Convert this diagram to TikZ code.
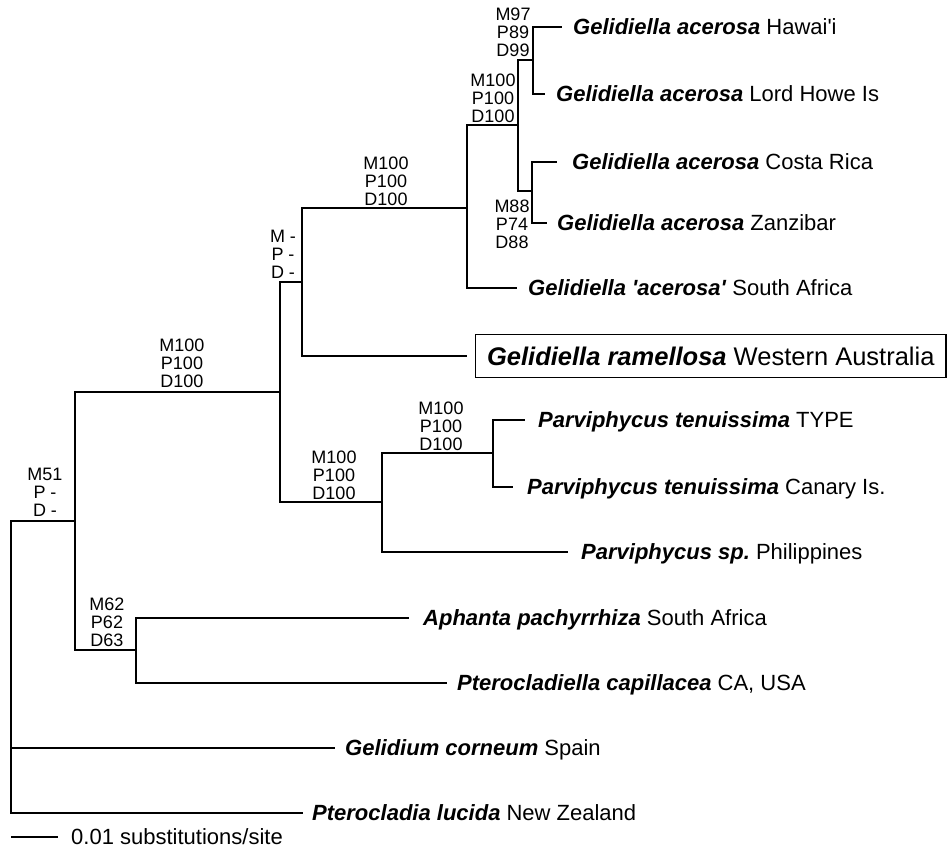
\documentclass[tikz,border=0pt]{standalone}
\usepackage{fontspec}
\setmainfont{Liberation Sans}
\newfontfamily\qfont{Liberation Sans}
\newcommand{\spn}[1]{\textbf{\textit{#1}}}
\newcommand{\apos}{{\qfont'}}
\frenchspacing
\begin{document}
\begin{tikzpicture}[x=1pt,y=-1pt,
  br/.style={line width=1.8pt, line join=miter},
  leaf/.style={anchor=west, inner sep=0pt, font=\fontsize{22}{26}\selectfont, text height=15.75pt, text depth=0pt},
  supp/.style={align=center, inner sep=0pt, font=\fontsize{18}{18}\selectfont},
  boxed/.style={draw, line width=1.2pt, anchor=west, inner xsep=11.5pt, inner ysep=12.4pt, font=\fontsize{25.5}{30}\selectfont, text height=18.3pt, text depth=0pt}
]
\useasboundingbox (0,0) rectangle (949,849);

% internal nodes
\coordinate (n1) at (533,60);
\coordinate (n2) at (532,191);
\coordinate (n3) at (518,125);
\coordinate (n4) at (467,208);
\coordinate (n5) at (302,282);
\coordinate (n6) at (493,453);
\coordinate (n7) at (382,502);
\coordinate (n8) at (280,392);
\coordinate (n9) at (136,650);
\coordinate (n10) at (75,521);
\coordinate (root) at (11,650);

% leaves
\node[leaf] (hawaii) at (573,27) {\spn{Gelidiella acerosa} Hawai\apos i};
\node[leaf] (lordhowe) at (556,94) {\spn{Gelidiella acerosa} Lord Howe Is};
\node[leaf] (costarica) at (572,162) {\spn{Gelidiella acerosa} Costa Rica};
\node[leaf] (zanzibar) at (557,223) {\spn{Gelidiella acerosa} Zanzibar};
\node[leaf] (safrica) at (528,288) {\spn{Gelidiella \apos acerosa\apos} South Africa};
\node[boxed] (ramellosa) at (475,356) {\spn{Gelidiella ramellosa} Western Australia};
\node[leaf] (ptype) at (538,420) {\spn{Parviphycus tenuissima} TYPE};
\node[leaf] (canary) at (527,487) {\spn{Parviphycus tenuissima} Canary Is.};
\node[leaf] (philip) at (581,552) {\spn{Parviphycus sp.} Philippines};
\node[leaf] (aphanta) at (423,618) {\spn{Aphanta pachyrrhiza} South Africa};
\node[leaf] (pcap) at (457,683) {\spn{Pterocladiella capillacea} CA, USA};
\node[leaf] (gcorn) at (345,748) {\spn{Gelidium corneum} Spain};
\node[leaf] (plucida) at (312,813) {\spn{Pterocladia lucida} New Zealand};

% branches
\draw[br, shorten >=11pt] (n1) |- (hawaii.west);
\draw[br, shorten >=11pt] (n1) |- (lordhowe.west);
\draw[br, shorten >=15pt] (n2) |- (costarica.west);
\draw[br, shorten >=10pt] (n2) |- (zanzibar.west);
\draw[br] (n3) |- (n1);
\draw[br] (n3) |- (n2);
\draw[br] (n4) |- (n3);
\draw[br, shorten >=11pt] (n4) |- (safrica.west);
\draw[br] (n5) |- (n4);
\draw[br, shorten >=8pt] (n5) |- (ramellosa.west);
\draw[br, shorten >=13pt] (n6) |- (ptype.west);
\draw[br, shorten >=14pt] (n6) |- (canary.west);
\draw[br] (n7) |- (n6);
\draw[br, shorten >=13pt] (n7) |- (philip.west);
\draw[br] (n8) |- (n5);
\draw[br] (n8) |- (n7);
\draw[br, shorten >=14pt] (n9) |- (aphanta.west);
\draw[br, shorten >=10pt] (n9) |- (pcap.west);
\draw[br] (n10) |- (n8);
\draw[br] (n10) |- (n9);
\draw[br] (root) |- (n10);
\draw[br, shorten >=10pt] (root) |- (gcorn.west);
\draw[br, shorten >=9pt] (root) |- (plucida.west);

% support values
\node[supp] (l1) at (513,32) {M97\\P89\\D99};
\node[supp] (l3) at (493,98) {M100\\P100\\D100};
\node[supp] (l2) at (512,224) {M88\\P74\\D88};
\node[supp] (l4) at (386,181) {M100\\P100\\D100};
\node[supp] (l5) at (283,254) {M -\\P -\\D -};
\node[supp] (l8) at (182,363) {M100\\P100\\D100};
\node[supp] (l7) at (334,475) {M100\\P100\\D100};
\node[supp] (l6) at (441,426) {M100\\P100\\D100};
\node[supp] (l10) at (45,492) {M51\\P -\\D -};
\node[supp] (l9) at (107,622) {M62\\P62\\D63};

% scale bar
\coordinate (sb1) at (11,837);
\coordinate (sb2) at (58,837);
\draw[br] (sb1) -- (sb2);
\node[leaf] (scale) at (71,837) {0.01 substitutions/site};
\end{tikzpicture}
\end{document}
